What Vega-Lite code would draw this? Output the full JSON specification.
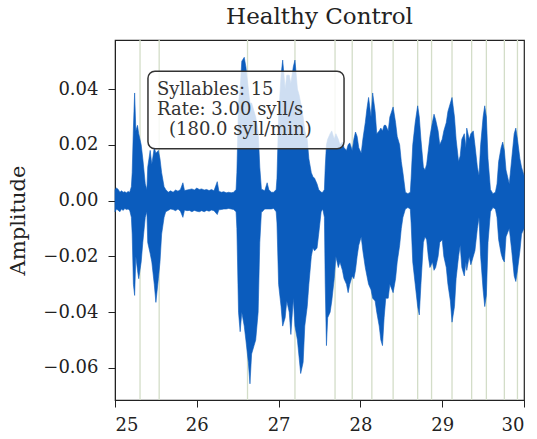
{
  "$schema": "https://vega.github.io/schema/vega-lite/v6.json",
  "width": 409,
  "height": 360,
  "autosize": "none",
  "padding": {"left": 115, "top": 40, "right": 13, "bottom": 39},
  "background": "white",
  "config": {
    "view": {"stroke": "#222", "strokeWidth": 1.2},
    "font": "DejaVu Serif",
    "axis": {
      "labelFont": "DejaVu Serif",
      "titleFont": "DejaVu Serif",
      "labelColor": "#222",
      "titleColor": "#222",
      "tickColor": "#222",
      "domainColor": "#222",
      "grid": false,
      "tickSize": 7,
      "labelFontSize": 18,
      "titleFontSize": 21,
      "titleFontWeight": "normal"
    },
    "title": {"font": "DejaVu Serif", "fontSize": 23, "fontWeight": "normal", "color": "#222", "offset": 10}
  },
  "title": "Healthy Control",
  "datasets": {
    "wave": [
      {"t": 25.00, "hi": 0.004, "lo": -0.004},
      {"t": 25.02, "hi": 0.0045, "lo": -0.003},
      {"t": 25.04, "hi": 0.004, "lo": -0.0035},
      {"t": 25.06, "hi": 0.003, "lo": -0.004},
      {"t": 25.08, "hi": 0.0035, "lo": -0.003},
      {"t": 25.10, "hi": 0.003, "lo": -0.0035},
      {"t": 25.12, "hi": 0.0032, "lo": -0.0028},
      {"t": 25.14, "hi": 0.0028, "lo": -0.0032},
      {"t": 25.16, "hi": 0.0033, "lo": -0.003},
      {"t": 25.18, "hi": 0.003, "lo": -0.0035},
      {"t": 25.20, "hi": 0.005, "lo": -0.006},
      {"t": 25.21, "hi": 0.010, "lo": -0.012},
      {"t": 25.225, "hi": 0.026, "lo": -0.030},
      {"t": 25.24, "hi": 0.0386, "lo": -0.034},
      {"t": 25.255, "hi": 0.025, "lo": -0.020},
      {"t": 25.275, "hi": 0.027, "lo": -0.025},
      {"t": 25.29, "hi": 0.024, "lo": -0.028},
      {"t": 25.32, "hi": 0.020, "lo": -0.022},
      {"t": 25.34, "hi": 0.015, "lo": -0.015},
      {"t": 25.37, "hi": 0.006, "lo": -0.006},
      {"t": 25.39, "hi": 0.004, "lo": -0.004},
      {"t": 25.40, "hi": 0.012, "lo": -0.015},
      {"t": 25.43, "hi": 0.018, "lo": -0.019},
      {"t": 25.45, "hi": 0.013, "lo": -0.022},
      {"t": 25.48, "hi": 0.019, "lo": -0.030},
      {"t": 25.50, "hi": 0.017, "lo": -0.0365},
      {"t": 25.53, "hi": 0.018, "lo": -0.028},
      {"t": 25.55, "hi": 0.015, "lo": -0.022},
      {"t": 25.57, "hi": 0.010, "lo": -0.012},
      {"t": 25.60, "hi": 0.005, "lo": -0.006},
      {"t": 25.62, "hi": 0.004, "lo": -0.004},
      {"t": 25.65, "hi": 0.003, "lo": -0.0035},
      {"t": 25.68, "hi": 0.0035, "lo": -0.003},
      {"t": 25.71, "hi": 0.003, "lo": -0.0032},
      {"t": 25.74, "hi": 0.0038, "lo": -0.0036},
      {"t": 25.77, "hi": 0.0034, "lo": -0.003},
      {"t": 25.80, "hi": 0.004, "lo": -0.0038},
      {"t": 25.83, "hi": 0.0064, "lo": -0.006},
      {"t": 25.85, "hi": 0.0036, "lo": -0.0034},
      {"t": 25.88, "hi": 0.0038, "lo": -0.0036},
      {"t": 25.91, "hi": 0.004, "lo": -0.0035},
      {"t": 25.94, "hi": 0.0042, "lo": -0.004},
      {"t": 25.97, "hi": 0.0038, "lo": -0.0035},
      {"t": 26.00, "hi": 0.0045, "lo": -0.0038},
      {"t": 26.03, "hi": 0.004, "lo": -0.004},
      {"t": 26.06, "hi": 0.0042, "lo": -0.0036},
      {"t": 26.09, "hi": 0.0038, "lo": -0.004},
      {"t": 26.12, "hi": 0.004, "lo": -0.0035},
      {"t": 26.15, "hi": 0.0036, "lo": -0.0038},
      {"t": 26.18, "hi": 0.004, "lo": -0.0034},
      {"t": 26.21, "hi": 0.0035, "lo": -0.0036},
      {"t": 26.25, "hi": 0.0068, "lo": -0.005},
      {"t": 26.27, "hi": 0.0034, "lo": -0.0033},
      {"t": 26.30, "hi": 0.003, "lo": -0.0032},
      {"t": 26.33, "hi": 0.0032, "lo": -0.003},
      {"t": 26.36, "hi": 0.0028, "lo": -0.003},
      {"t": 26.39, "hi": 0.003, "lo": -0.0028},
      {"t": 26.42, "hi": 0.0028, "lo": -0.003},
      {"t": 26.45, "hi": 0.003, "lo": -0.0032},
      {"t": 26.48, "hi": 0.004, "lo": -0.004},
      {"t": 26.49, "hi": 0.010, "lo": -0.010},
      {"t": 26.51, "hi": 0.035, "lo": -0.040},
      {"t": 26.53, "hi": 0.040, "lo": -0.047},
      {"t": 26.55, "hi": 0.050, "lo": -0.040},
      {"t": 26.58, "hi": 0.0514, "lo": -0.045},
      {"t": 26.60, "hi": 0.048, "lo": -0.050},
      {"t": 26.63, "hi": 0.040, "lo": -0.058},
      {"t": 26.65, "hi": 0.035, "lo": -0.0657},
      {"t": 26.67, "hi": 0.035, "lo": -0.055},
      {"t": 26.70, "hi": 0.032, "lo": -0.052},
      {"t": 26.72, "hi": 0.030, "lo": -0.050},
      {"t": 26.75, "hi": 0.025, "lo": -0.040},
      {"t": 26.77, "hi": 0.012, "lo": -0.015},
      {"t": 26.79, "hi": 0.004, "lo": -0.004},
      {"t": 26.80, "hi": 0.004, "lo": -0.004},
      {"t": 26.83, "hi": 0.0035, "lo": -0.003},
      {"t": 26.86, "hi": 0.0064, "lo": -0.003},
      {"t": 26.88, "hi": 0.004, "lo": -0.003},
      {"t": 26.91, "hi": 0.003, "lo": -0.003},
      {"t": 26.94, "hi": 0.003, "lo": -0.0028},
      {"t": 26.97, "hi": 0.004, "lo": -0.004},
      {"t": 26.98, "hi": 0.008, "lo": -0.008},
      {"t": 27.00, "hi": 0.030, "lo": -0.030},
      {"t": 27.03, "hi": 0.045, "lo": -0.038},
      {"t": 27.05, "hi": 0.0504, "lo": -0.045},
      {"t": 27.08, "hi": 0.040, "lo": -0.042},
      {"t": 27.10, "hi": 0.045, "lo": -0.036},
      {"t": 27.13, "hi": 0.045, "lo": -0.040},
      {"t": 27.15, "hi": 0.042, "lo": -0.048},
      {"t": 27.18, "hi": 0.048, "lo": -0.035},
      {"t": 27.20, "hi": 0.0504, "lo": -0.045},
      {"t": 27.23, "hi": 0.040, "lo": -0.050},
      {"t": 27.25, "hi": 0.038, "lo": -0.056},
      {"t": 27.27, "hi": 0.035, "lo": -0.062},
      {"t": 27.30, "hi": 0.030, "lo": -0.058},
      {"t": 27.32, "hi": 0.025, "lo": -0.045},
      {"t": 27.35, "hi": 0.022, "lo": -0.038},
      {"t": 27.37, "hi": 0.015, "lo": -0.030},
      {"t": 27.40, "hi": 0.010, "lo": -0.020},
      {"t": 27.42, "hi": 0.0086, "lo": -0.017},
      {"t": 27.44, "hi": 0.008, "lo": -0.018},
      {"t": 27.47, "hi": 0.006, "lo": -0.017},
      {"t": 27.49, "hi": 0.004, "lo": -0.012},
      {"t": 27.52, "hi": 0.003, "lo": -0.004},
      {"t": 27.54, "hi": 0.003, "lo": -0.003},
      {"t": 27.56, "hi": 0.004, "lo": -0.006},
      {"t": 27.57, "hi": 0.012, "lo": -0.030},
      {"t": 27.585, "hi": 0.020, "lo": -0.052},
      {"t": 27.60, "hi": 0.022, "lo": -0.042},
      {"t": 27.63, "hi": 0.024, "lo": -0.040},
      {"t": 27.65, "hi": 0.025, "lo": -0.036},
      {"t": 27.68, "hi": 0.022, "lo": -0.028},
      {"t": 27.70, "hi": 0.024, "lo": -0.020},
      {"t": 27.73, "hi": 0.022, "lo": -0.024},
      {"t": 27.75, "hi": 0.020, "lo": -0.022},
      {"t": 27.78, "hi": 0.021, "lo": -0.025},
      {"t": 27.80, "hi": 0.019, "lo": -0.028},
      {"t": 27.83, "hi": 0.018, "lo": -0.030},
      {"t": 27.85, "hi": 0.020, "lo": -0.033},
      {"t": 27.87, "hi": 0.0207, "lo": -0.030},
      {"t": 27.90, "hi": 0.018, "lo": -0.027},
      {"t": 27.92, "hi": 0.022, "lo": -0.028},
      {"t": 27.94, "hi": 0.0246, "lo": -0.025},
      {"t": 27.96, "hi": 0.023, "lo": -0.020},
      {"t": 27.98, "hi": 0.019, "lo": -0.016},
      {"t": 28.01, "hi": 0.017, "lo": -0.013},
      {"t": 28.03, "hi": 0.022, "lo": -0.018},
      {"t": 28.06, "hi": 0.028, "lo": -0.024},
      {"t": 28.08, "hi": 0.033, "lo": -0.027},
      {"t": 28.10, "hi": 0.037, "lo": -0.030},
      {"t": 28.13, "hi": 0.030, "lo": -0.032},
      {"t": 28.15, "hi": 0.0386, "lo": -0.035},
      {"t": 28.18, "hi": 0.032, "lo": -0.036},
      {"t": 28.20, "hi": 0.024, "lo": -0.040},
      {"t": 28.23, "hi": 0.025, "lo": -0.045},
      {"t": 28.25, "hi": 0.026, "lo": -0.050},
      {"t": 28.27, "hi": 0.025, "lo": -0.052},
      {"t": 28.29, "hi": 0.027, "lo": -0.042},
      {"t": 28.31, "hi": 0.027, "lo": -0.035},
      {"t": 28.34, "hi": 0.025, "lo": -0.035},
      {"t": 28.36, "hi": 0.030, "lo": -0.030},
      {"t": 28.40, "hi": 0.0336, "lo": -0.033},
      {"t": 28.43, "hi": 0.028, "lo": -0.028},
      {"t": 28.45, "hi": 0.023, "lo": -0.022},
      {"t": 28.48, "hi": 0.020, "lo": -0.016},
      {"t": 28.50, "hi": 0.014, "lo": -0.010},
      {"t": 28.52, "hi": 0.010, "lo": -0.006},
      {"t": 28.55, "hi": 0.003, "lo": -0.003},
      {"t": 28.58, "hi": 0.0025, "lo": -0.0025},
      {"t": 28.61, "hi": 0.003, "lo": -0.003},
      {"t": 28.62, "hi": 0.008, "lo": -0.008},
      {"t": 28.64, "hi": 0.020, "lo": -0.022},
      {"t": 28.67, "hi": 0.028, "lo": -0.030},
      {"t": 28.70, "hi": 0.034, "lo": -0.038},
      {"t": 28.72, "hi": 0.030, "lo": -0.041},
      {"t": 28.74, "hi": 0.022, "lo": -0.030},
      {"t": 28.77, "hi": 0.012, "lo": -0.015},
      {"t": 28.79, "hi": 0.011, "lo": -0.013},
      {"t": 28.81, "hi": 0.013, "lo": -0.014},
      {"t": 28.83, "hi": 0.018, "lo": -0.020},
      {"t": 28.85, "hi": 0.023, "lo": -0.024},
      {"t": 28.88, "hi": 0.028, "lo": -0.022},
      {"t": 28.90, "hi": 0.031, "lo": -0.025},
      {"t": 28.92, "hi": 0.029, "lo": -0.024},
      {"t": 28.95, "hi": 0.025, "lo": -0.020},
      {"t": 28.97, "hi": 0.020, "lo": -0.015},
      {"t": 29.00, "hi": 0.022, "lo": -0.014},
      {"t": 29.02, "hi": 0.025, "lo": -0.020},
      {"t": 29.05, "hi": 0.028, "lo": -0.024},
      {"t": 29.07, "hi": 0.032, "lo": -0.030},
      {"t": 29.10, "hi": 0.035, "lo": -0.036},
      {"t": 29.12, "hi": 0.037, "lo": -0.0436},
      {"t": 29.15, "hi": 0.030, "lo": -0.038},
      {"t": 29.17, "hi": 0.022, "lo": -0.028},
      {"t": 29.20, "hi": 0.014, "lo": -0.020},
      {"t": 29.22, "hi": 0.016, "lo": -0.016},
      {"t": 29.24, "hi": 0.022, "lo": -0.024},
      {"t": 29.27, "hi": 0.024, "lo": -0.027},
      {"t": 29.29, "hi": 0.019, "lo": -0.022},
      {"t": 29.30, "hi": 0.026, "lo": -0.025},
      {"t": 29.33, "hi": 0.022, "lo": -0.020},
      {"t": 29.35, "hi": 0.024, "lo": -0.023},
      {"t": 29.38, "hi": 0.025, "lo": -0.020},
      {"t": 29.40, "hi": 0.020, "lo": -0.018},
      {"t": 29.43, "hi": 0.012, "lo": -0.010},
      {"t": 29.45, "hi": 0.009, "lo": -0.006},
      {"t": 29.47, "hi": 0.020, "lo": -0.020},
      {"t": 29.50, "hi": 0.030, "lo": -0.032},
      {"t": 29.52, "hi": 0.034, "lo": -0.038},
      {"t": 29.54, "hi": 0.030, "lo": -0.034},
      {"t": 29.56, "hi": 0.015, "lo": -0.015},
      {"t": 29.59, "hi": 0.004, "lo": -0.004},
      {"t": 29.62, "hi": 0.0025, "lo": -0.0025},
      {"t": 29.65, "hi": 0.003, "lo": -0.003},
      {"t": 29.67, "hi": 0.006, "lo": -0.006},
      {"t": 29.69, "hi": 0.014, "lo": -0.014},
      {"t": 29.72, "hi": 0.019, "lo": -0.019},
      {"t": 29.74, "hi": 0.021, "lo": -0.021},
      {"t": 29.76, "hi": 0.018, "lo": -0.022},
      {"t": 29.78, "hi": 0.011, "lo": -0.013},
      {"t": 29.82, "hi": 0.006, "lo": -0.010},
      {"t": 29.85, "hi": 0.015, "lo": -0.018},
      {"t": 29.88, "hi": 0.024, "lo": -0.027},
      {"t": 29.90, "hi": 0.026, "lo": -0.029},
      {"t": 29.92, "hi": 0.022, "lo": -0.025},
      {"t": 29.95, "hi": 0.015, "lo": -0.018},
      {"t": 29.97, "hi": 0.012, "lo": -0.012},
      {"t": 30.00, "hi": 0.009, "lo": -0.010}
    ],
    "syllables": [
      {"t": 25.306}, {"t": 25.54}, {"t": 26.62}, {"t": 27.20}, {"t": 27.69},
      {"t": 27.90}, {"t": 28.14}, {"t": 28.40}, {"t": 28.70}, {"t": 28.87},
      {"t": 29.12}, {"t": 29.36}, {"t": 29.54}, {"t": 29.76}, {"t": 29.92}
    ],
    "box": [{"x1": 25.403, "x2": 27.80, "y1": 0.0464, "y2": 0.0186}],
    "notes": [
      {"t": 25.513, "a": 0.0378, "label": "Syllables: 15"},
      {"t": 25.513, "a": 0.0307, "label": "Rate: 3.00 syll/s"},
      {"t": 25.66, "a": 0.0236, "label": "(180.0 syll/min)"}
    ]
  },
  "layer": [
    {
      "data": {"name": "syllables"},
      "mark": {"type": "rule", "color": "#d3ddc8", "strokeWidth": 1.3},
      "encoding": {
        "x": {
          "field": "t", "type": "quantitative",
          "scale": {"domain": [25, 30], "nice": false, "zero": false},
          "axis": {"values": [25, 26, 27, 28, 29, 30], "title": null, "labelPadding": 9, "format": "d"}
        }
      }
    },
    {
      "data": {"name": "wave"},
      "mark": {"type": "area", "color": "#0b5cbd", "stroke": "#0b5cbd", "strokeWidth": 0.6, "interpolate": "linear"},
      "encoding": {
        "x": {"field": "t", "type": "quantitative"},
        "y": {
          "field": "hi", "type": "quantitative",
          "scale": {"domain": [-0.0715, 0.0576], "nice": false, "zero": false},
          "axis": {"values": [-0.06, -0.04, -0.02, 0, 0.02, 0.04], "format": ".2f", "title": "Amplitude", "labelPadding": 10, "titlePadding": 14}
        },
        "y2": {"field": "lo"}
      }
    },
    {
      "data": {"name": "box"},
      "mark": {"type": "rect", "fill": "white", "fillOpacity": 0.8, "stroke": "#333", "strokeWidth": 1.5, "cornerRadius": 7},
      "encoding": {
        "x": {"field": "x1", "type": "quantitative"},
        "x2": {"field": "x2"},
        "y": {"field": "y1", "type": "quantitative"},
        "y2": {"field": "y2"}
      }
    },
    {
      "data": {"name": "notes"},
      "mark": {"type": "text", "align": "left", "baseline": "alphabetic", "font": "DejaVu Serif", "fontSize": 18, "color": "#333"},
      "encoding": {
        "x": {"field": "t", "type": "quantitative"},
        "y": {"field": "a", "type": "quantitative"},
        "text": {"field": "label"}
      }
    }
  ]
}
